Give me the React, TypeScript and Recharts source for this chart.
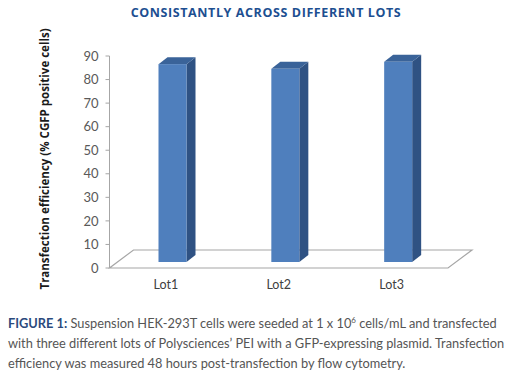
import { BarChart, Bar, XAxis, YAxis, ReferenceArea } from 'recharts'

const lots = ['Lot1', 'Lot2', 'Lot3']
const efficiency = [84, 82, 85]
const yTicks = [0, 10, 20, 30, 40, 50, 60, 70, 80, 90]

const data = lots.map((lot, i) => ({ lot, value: efficiency[i] }))

const title = 'CONSISTANTLY ACROSS DIFFERENT LOTS'
const yTitle = 'Transfection efficiency (% CGFP positive cells)'

// 3d look, excel style
const FLOOR_DX = 24
const FLOOR_DY = 18
const BAR_OFF_X = 7
const BAR_OFF_Y = 6
const SIDE_DX = 9
const SIDE_DY = 7

const Bar3D = (props: any) => {
  const { x, y, width, height } = props
  const fx = x + BAR_OFF_X
  const fy = y - BAR_OFF_Y
  const r = fx + width
  return <g>
    <polygon
      points={`${r},${fy} ${r + SIDE_DX},${fy - SIDE_DY} ${r + SIDE_DX},${fy + height - SIDE_DY} ${r},${fy + height}`}
      fill="#2f5283" />
    <polygon
      points={`${fx},${fy} ${fx + SIDE_DX},${fy - SIDE_DY} ${r + SIDE_DX},${fy - SIDE_DY} ${r},${fy}`}
      fill="#3a6399" />
    <rect x={fx} y={fy} width={width} height={height} fill="#4f7fbd" />
  </g>
}

const Floor = (props: any) => {
  const { x, y, width, height } = props
  const base = y + height
  return <polygon
    points={`${x},${base} ${x + width},${base} ${x + width + FLOOR_DX},${base - FLOOR_DY} ${x + FLOOR_DX},${base - FLOOR_DY}`}
    fill="#fff" stroke="#a6a6a6" strokeWidth={1.2} />
}

const YTitle = (props: any) => {
  const vb = props.viewBox
  const cx = vb.x + 44
  const cy = vb.y + vb.height / 2 - 3
  return <text x={cx} y={cy} transform={`rotate(-90 ${cx} ${cy})`} textAnchor="middle"
    dominantBaseline="central" fontSize={11.5} fontWeight={700} fill="#1a1a1a"
    fontFamily="'Open Sans', sans-serif">{yTitle}</text>
}

const margin = { top: 56, right: 84, bottom: 2, left: 0 }

const Chart = () => <BarChart width={532} height={300} data={data} margin={margin}>
  <ReferenceArea y1={0} y2={10} shape={<Floor />} ifOverflow="visible" />
  <XAxis dataKey="lot" axisLine={false} tickLine={false} height={30}
    tick={{ fontSize: 12.5, fill: '#404040', fontFamily: 'Lato, sans-serif' }} tickMargin={6} />
  <YAxis domain={[0, 90]} ticks={yTicks} width={109.5} tickSize={4} tickMargin={7}
    axisLine={{ stroke: '#a6a6a6' }} tickLine={{ stroke: '#a6a6a6' }}
    tick={{ fontSize: 13, fill: '#595959', fontFamily: 'Lato, sans-serif' }}
    label={<YTitle />} />
  <Bar dataKey="value" barSize={28} shape={<Bar3D />} isAnimationActive={false} />
</BarChart>

export default function App() {
  return <div style={{ position: 'absolute', left: 0, top: 0, width: 532, height: 387, background: '#fff' }}>
    <div style={{
      position: 'absolute', top: 4, left: 0, width: 532, textAlign: 'center',
      fontFamily: "'Open Sans', sans-serif", fontWeight: 700, fontSize: 12.5,
      letterSpacing: 0.6, color: '#1d4f91'
    }}>{title}</div>
    <div style={{ position: 'absolute', top: 0, left: 0 }}>
      <Chart />
    </div>
    <div style={{
      position: 'absolute', top: 313, left: 8, width: 520,
      fontFamily: "Lato, sans-serif", fontSize: 12.8, lineHeight: '20px', color: '#555'
    }}>
      <div><b style={{ color: '#2b4a7d' }}>FIGURE 1:</b> Suspension HEK-293T cells were seeded at 1 x 10<sup style={{ fontSize: 8, lineHeight: 0 }}>6</sup> cells/mL and transfected</div>
      <div>with three different lots of Polysciences’ PEI with a GFP-expressing plasmid. Transfection</div>
      <div>efficiency was measured 48 hours post-transfection by flow cytometry.</div>
    </div>
  </div>
}
